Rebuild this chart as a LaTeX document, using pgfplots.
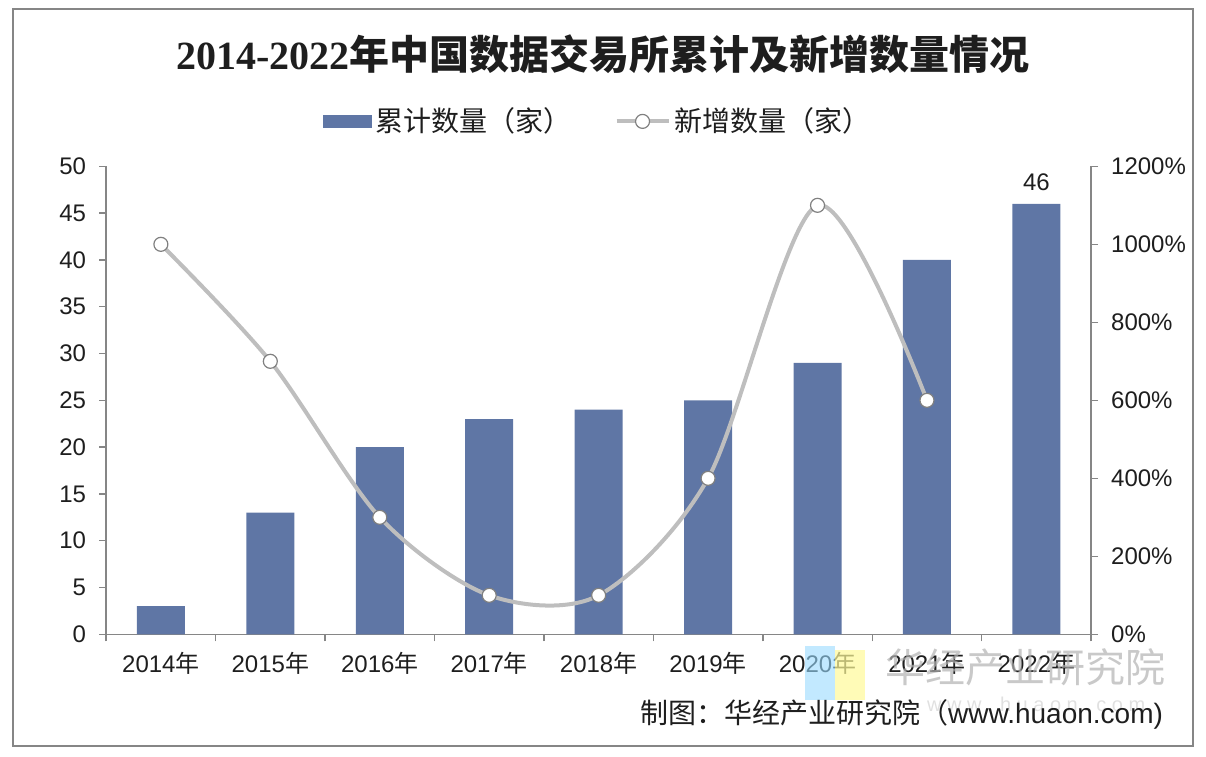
\documentclass[border=0pt]{standalone}
\usepackage{pgfplots}
\pgfplotsset{compat=1.18}
\usepackage{fontspec}
\setmainfont{Liberation Sans}
\newfontfamily\cjk{Noto Sans CJK SC}
\newfontfamily\titleserif{Liberation Serif}
\definecolor{barcol}{RGB}{95,118,165}
\definecolor{linecol}{RGB}{190,190,190}
\definecolor{axiscol}{RGB}{134,134,134}
\definecolor{txt}{RGB}{30,30,30}

\begin{document}
\begin{tikzpicture}[x=0.5pt,y=0.5pt]
\path (0,0) rectangle (1206,756);
\draw[axiscol, line width=0.7pt] (13,747) rectangle (1193,10);
\node[txt] at (603,702) {\fontsize{20}{24}\selectfont\bfseries{\titleserif 2014-2022}{\cjk 年中国数据交易所累计及新增数量情况}};

\begin{axis}[
  name=ax1,
  at={(97,130)}, anchor=south west, scale only axis,
  width=492.5pt, height=234pt,
  xmin=-0.5, xmax=8.5, ymin=0, ymax=50,
  ytick={0,5,...,50},
  xtick={0,...,8},
  xticklabels={2014{\cjk 年},2015{\cjk 年},2016{\cjk 年},2017{\cjk 年},2018{\cjk 年},2019{\cjk 年},2020{\cjk 年},2021{\cjk 年},2022{\cjk 年}},
  minor xtick={-0.5,0.5,...,8.5},
  major x tick style={draw=none},
  axis y line*=left, axis x line*=bottom,
  axis line style={axiscol, line width=0.7pt, -},
  tick style={axiscol, line width=0.7pt},
  tick align=outside,
  major tick length=3.5pt, minor tick length=3.5pt,
  ticklabel style={font=\fontsize{12}{14}\selectfont, text=txt},
  /pgf/number format/assume math mode=true,
  yticklabel style={xshift=-3pt},
  xticklabel style={yshift=-2pt},
]
\addplot[ybar, bar width=24pt, fill=barcol, draw=none] coordinates {
(0,3) (1,13) (2,20) (3,23) (4,24) (5,25) (6,29) (7,40) (8,46)};
\node[above, font=\fontsize{12}{14}\selectfont, text=txt, yshift=3pt] at (axis cs:8,46) {46};
\end{axis}

\begin{axis}[
  at={(ax1.south west)}, anchor=south west, scale only axis,
  width=492.5pt, height=234pt,
  xmin=-0.5, xmax=8.5, ymin=0, ymax=1200,
  ytick={0,200,...,1200},
  xtick=\empty,
  yticklabel={\pgfmathprintnumber[1000 sep={}]{\tick}\%},
  axis y line*=right, axis x line*=bottom,
  x axis line style={draw=none},
  y axis line style={axiscol, line width=0.7pt, -},
  tick style={axiscol, line width=0.7pt},
  tick align=outside,
  major tick length=3.5pt,
  ticklabel style={font=\fontsize{12}{14}\selectfont, text=txt},
  /pgf/number format/assume math mode=true,
  yticklabel style={xshift=3pt},
  legend columns=2,
  legend style={draw=none, fill=none, at={(0.5,1.096)}, anchor=center,
    font=\fontsize{14}{16}\selectfont\cjk, text=txt,
    /tikz/every even column/.append style={column sep=19.5pt}},
]
\addlegendimage{legend image code/.code={\fill[barcol] (0pt,-3pt) rectangle (24pt,3pt);}}
\addlegendentry{累计数量（家）}
\addplot[smooth, linecol, line width=2pt, mark=*, mark size=3.5pt,
  mark options={fill=white, draw=gray, line width=0.6pt},
  legend image code/.code={\draw[linecol,line width=2pt] (0pt,0pt) -- (26pt,0pt); \draw[gray,fill=white,line width=0.6pt] (13pt,0pt) circle (3.5pt);}]
  coordinates {(0,1000) (1,700) (2,300) (3,100) (4,100) (5,400) (6,1100) (7,600)};
\addlegendentry{新增数量（家）}
\end{axis}

% watermark
\fill[blue!35!cyan!40, opacity=0.6] (805,110) rectangle (835,56);
\fill[yellow!40, opacity=0.7] (835,106) rectangle (865,56);
\node[anchor=west, text=gray!60, opacity=0.7] at (878,89) {\fontsize{20}{22}\selectfont\cjk 华经产业研究院};
\node[anchor=west, text=gray!40, opacity=0.6] at (920,52) {\fontsize{10}{12}\selectfont w w w . h u a o n . c o m};

\node[anchor=east, text=txt] at (1170,42) {\fontsize{14}{16}\selectfont{\cjk 制图：华经产业研究院（}www.huaon.com)};
\end{tikzpicture}
\end{document}
